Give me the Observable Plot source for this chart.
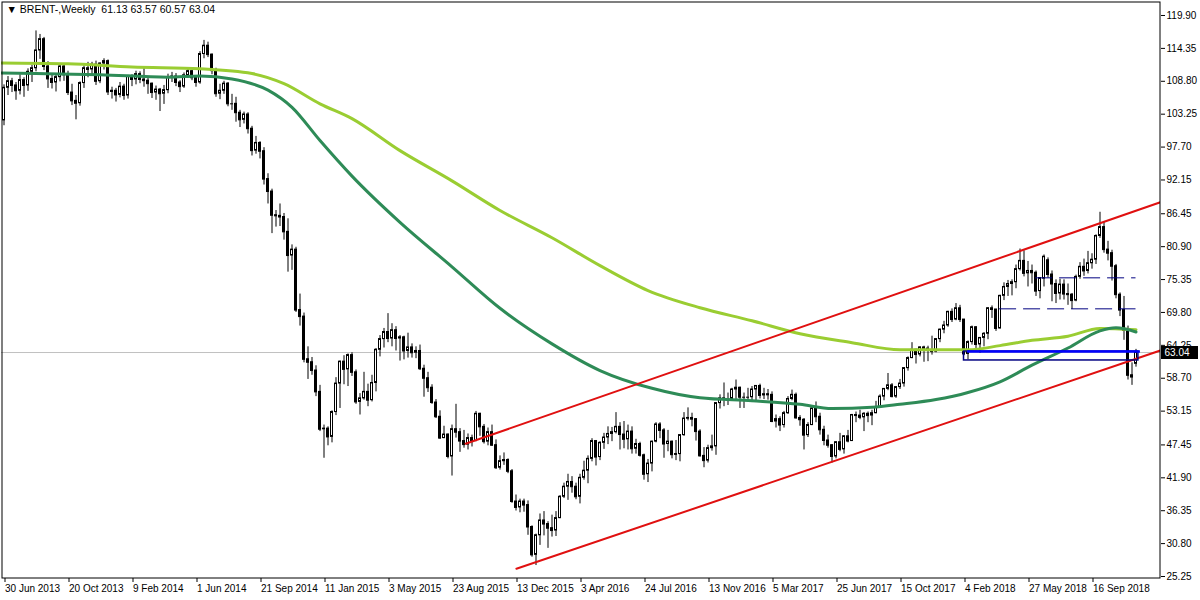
<!DOCTYPE html>
<html><head><meta charset="utf-8">
<script src="https://cdn.jsdelivr.net/npm/d3@7"></script>
<script src="https://cdn.jsdelivr.net/npm/@observablehq/plot@0.6"></script>
<style>
html,body{margin:0;padding:0;background:#fff;}
#chart{width:1200px;height:600px;overflow:hidden;}
</style></head><body><div id="chart"></div>
<script>
// ---- data (weekly BRENT candles, bar 0 = week of 30 Jun 2013) ----
const titleText = "\u25BC BRENT-,Weekly\u00a0\u00a061.13 63.57 60.57 63.04";
const opens = [
102.2,107.7,108.8,108.1,107.2,109.0,108.1,110.4,111.0,114.0,
115.9,111.3,109.2,108.6,109.5,111.3,109.9,106.9,105.5,105.1,
108.5,111.0,110.8,111.6,108.8,111.8,112.2,107.0,107.2,106.5,
107.9,106.4,109.6,109.1,110.0,109.1,108.9,108.4,106.9,107.4,
106.7,107.3,109.5,109.6,108.6,107.9,109.8,110.5,109.4,108.6,
113.4,114.8,113.3,110.6,106.7,107.2,108.4,105.0,105.0,103.5,
102.3,103.2,100.8,97.1,98.4,97.0,92.3,90.2,86.2,86.1,
85.9,83.4,79.4,80.4,70.2,69.1,61.9,61.4,60.0,56.4,
50.1,50.2,48.8,53.0,57.8,61.5,60.2,62.6,59.7,54.7,
55.3,56.4,55.0,57.9,63.5,65.3,66.5,65.4,66.8,65.4,
65.6,63.3,63.9,63.0,63.3,60.3,58.7,57.1,54.6,52.2,
48.6,49.2,45.5,50.1,49.6,48.1,47.5,48.6,48.1,52.7,
50.5,48.0,49.6,47.4,43.6,44.7,44.9,43.0,37.9,36.9,
37.9,37.3,33.6,28.9,32.2,34.7,34.1,33.4,33.0,35.1,
38.7,40.4,41.2,40.4,38.7,41.9,43.1,45.1,48.1,45.4,
47.8,48.7,49.3,49.6,50.5,49.2,48.4,49.7,46.8,47.6,
45.7,42.5,44.3,48.0,50.9,49.9,47.6,48.0,45.8,45.9,
49.1,51.9,52.0,51.8,49.7,45.6,44.8,46.9,47.2,54.5,
55.3,55.2,55.2,56.8,57.1,55.5,55.5,55.5,56.8,57.4,
55.8,56.0,55.9,51.4,51.8,50.8,52.8,55.2,55.9,52.0,
51.7,49.1,50.8,53.6,52.2,50.0,48.2,47.4,45.5,47.9,
46.7,48.9,48.1,52.5,52.4,52.1,52.7,52.4,52.8,53.8,
55.6,56.9,57.5,55.6,57.2,57.8,60.4,62.1,63.5,62.7,
63.9,63.7,63.4,63.2,65.3,66.9,67.6,69.9,68.6,70.5,
68.6,62.8,64.8,67.3,64.4,65.5,66.2,70.5,70.3,67.1,
72.6,74.1,74.6,74.9,77.1,78.5,76.4,76.8,76.5,73.4,
75.5,78.6,76.2,74.6,73.0,74.5,72.9,72.8,71.8,75.8,
77.5,76.8,78.1,78.7,82.7,84.2,80.4,79.8,77.6,72.8,
70.2,66.8,59.2,61.13];
const highs = [
108.2,109.6,109.3,108.6,109.9,109.4,110.9,111.5,117.3,116.7,
116.2,112.1,110.0,110.0,111.8,111.6,110.5,108.3,106.4,108.7,
111.4,112.0,112.0,112.2,111.9,112.6,112.4,107.8,107.6,108.6,
108.3,109.8,109.9,110.5,110.4,111.1,109.3,108.5,108.0,107.6,
108.1,110.0,110.3,110.1,108.9,110.2,110.8,110.6,109.5,113.8,
115.7,115.4,113.4,111.0,108.3,108.8,108.6,106.6,106.1,103.9,
103.6,103.5,101.2,99.5,98.6,97.6,93.2,90.6,87.0,88.1,
86.5,85.6,81.2,80.8,72.9,69.7,64.0,62.2,60.8,57.5,
50.8,50.5,53.2,58.8,61.6,62.5,62.8,63.0,60.1,56.1,
59.7,57.7,59.2,63.7,65.9,67.1,69.6,67.9,67.4,65.9,
65.8,66.3,64.5,64.0,64.3,60.9,59.7,57.6,55.1,53.2,
50.6,49.3,50.8,54.3,50.2,49.9,49.3,49.1,53.1,52.8,
50.9,50.3,50.8,48.3,45.6,46.1,45.1,43.3,39.0,38.3,
38.3,38.0,33.8,32.4,35.8,36.2,34.5,35.6,36.2,38.9,
41.0,42.5,42.1,41.0,42.5,44.7,45.6,48.5,48.2,48.0,
49.4,50.5,50.4,52.9,51.2,51.4,50.8,50.5,48.4,47.9,
45.9,45.0,48.1,51.2,51.2,50.2,49.9,48.1,48.2,49.2,
52.9,53.7,52.8,51.9,50.0,47.0,47.4,49.1,54.5,55.9,
57.9,56.2,57.0,58.4,57.2,56.2,57.0,57.3,57.4,57.7,
57.0,56.8,56.4,52.5,52.2,53.1,55.6,56.7,56.2,52.4,
51.9,51.2,54.0,54.7,52.8,50.6,49.1,47.5,48.0,49.4,
49.0,49.9,52.6,53.0,53.3,52.9,53.0,53.3,54.8,55.9,
56.9,59.5,57.8,57.3,58.5,60.5,62.3,64.7,63.6,64.0,
64.1,64.1,65.8,65.3,67.0,68.3,70.0,70.4,71.3,71.0,
68.6,65.0,67.5,67.4,65.5,66.4,70.6,70.9,70.3,72.7,
74.8,75.2,75.3,77.8,80.5,80.2,78.4,77.8,76.8,75.6,
79.5,79.0,76.8,75.3,75.4,75.3,74.6,73.0,76.1,78.2,
78.8,80.1,79.7,82.9,86.7,85.1,81.8,80.3,77.9,73.1,
72.5,67.5,61.3,63.57];
const lows = [
101.3,106.4,106.9,105.6,106.5,106.1,107.1,108.6,110.4,112.5,
110.6,107.6,107.5,107.0,108.7,108.8,106.4,104.7,102.3,104.6,
107.6,109.4,109.9,108.1,108.4,110.7,106.4,105.8,105.3,106.0,
105.6,105.8,107.9,108.2,108.4,107.8,106.6,105.9,105.6,103.7,
104.9,106.7,108.6,107.9,106.9,107.6,109.3,108.9,107.8,108.3,
112.6,112.8,109.9,106.1,105.7,106.6,104.5,103.9,101.9,101.0,
101.6,99.9,96.2,96.5,95.7,91.3,88.1,83.1,84.2,84.3,
82.0,76.6,76.9,69.8,67.5,61.3,58.5,59.2,55.6,49.7,
45.2,47.3,47.8,52.4,53.6,57.6,57.3,59.0,54.3,52.5,
55.0,53.9,54.7,56.4,62.3,63.8,64.7,64.0,63.3,61.6,
61.8,62.1,62.1,62.0,60.0,55.5,56.3,54.3,51.9,48.4,
48.5,45.1,42.2,48.6,46.2,46.9,46.6,47.1,48.0,48.9,
47.6,47.3,47.2,43.3,43.2,44.0,42.6,37.6,36.3,36.0,
36.1,32.2,28.5,27.1,30.5,32.1,30.0,31.9,32.0,35.0,
38.4,38.1,39.3,38.2,37.5,41.5,40.9,44.6,43.9,44.8,
46.7,47.5,48.0,49.3,46.6,46.8,46.6,45.9,45.9,45.4,
41.5,41.1,42.9,47.8,48.5,45.2,46.3,45.1,44.8,44.6,
48.9,51.5,50.5,48.1,45.4,43.6,44.4,46.4,45.7,53.5,
53.9,54.1,55.0,54.8,53.6,53.6,54.7,54.6,54.6,55.2,
55.1,55.0,51.2,50.3,49.7,50.3,52.6,54.9,51.8,50.6,
46.6,48.7,50.7,51.2,49.1,47.3,46.9,44.4,45.1,46.3,
45.9,47.8,48.1,51.2,51.7,49.7,51.2,50.7,52.7,53.6,
54.9,56.6,55.4,55.3,56.8,57.2,59.9,62.0,61.1,62.3,
61.4,61.5,62.6,63.0,64.7,66.2,67.3,68.1,68.4,68.1,
62.5,61.8,64.3,63.5,62.9,64.0,65.2,68.8,66.6,67.0,
71.8,72.5,72.6,73.8,76.8,75.8,74.1,74.6,72.5,72.1,
74.1,75.6,71.6,71.3,71.9,71.9,71.0,70.3,71.6,75.4,
75.9,76.3,77.1,77.9,82.3,79.8,78.5,75.1,72.1,69.1,
65.1,58.4,57.5,60.57];
const closes = [
107.7,108.8,108.1,107.2,109.0,108.1,110.4,111.0,114.0,115.9,
111.3,109.2,108.6,109.5,111.3,109.9,106.9,105.5,105.1,108.5,
111.0,110.8,111.6,108.8,111.8,112.2,107.0,107.2,106.5,107.9,
106.4,109.6,109.1,110.0,109.1,108.9,108.4,106.9,107.4,106.7,
107.3,109.5,109.6,108.6,107.9,109.8,110.5,109.4,108.6,113.4,
114.8,113.3,110.6,106.7,107.2,108.4,105.0,105.0,103.5,102.3,
103.2,100.8,97.1,98.4,97.0,92.3,90.2,86.2,86.1,85.9,
83.4,79.4,80.4,70.2,69.1,61.9,61.4,60.0,56.4,50.1,
50.2,48.8,53.0,57.8,61.5,60.2,62.6,59.7,54.7,55.3,
56.4,55.0,57.9,63.5,65.3,66.5,65.4,66.8,65.4,65.6,
63.3,63.9,63.0,63.3,60.3,58.7,57.1,54.6,52.2,48.6,
49.2,45.5,50.1,49.6,48.1,47.5,48.6,48.1,52.7,50.5,
48.0,49.6,47.4,43.6,44.7,44.9,43.0,37.9,36.9,37.9,
37.3,33.6,28.9,32.2,34.7,34.1,33.4,33.0,35.1,38.7,
40.4,41.2,40.4,38.7,41.9,43.1,45.1,48.1,45.4,47.8,
48.7,49.3,49.6,50.5,49.2,48.4,49.7,46.8,47.6,45.7,
42.5,44.3,48.0,50.9,49.9,47.6,48.0,45.8,45.9,49.1,
51.9,52.0,51.8,49.7,45.6,44.8,46.9,47.2,54.5,55.3,
55.2,55.2,56.8,57.1,55.5,55.5,55.5,56.8,57.4,55.8,
56.0,55.9,51.4,51.8,50.8,52.8,55.2,55.9,52.0,51.7,
49.1,50.8,53.6,52.2,50.0,48.2,47.4,45.5,47.9,46.7,
48.9,48.1,52.5,52.4,52.1,52.7,52.4,52.8,53.8,55.6,
56.9,57.5,55.6,57.2,57.8,60.4,62.1,63.5,62.7,63.9,
63.7,63.4,63.2,65.3,66.9,67.6,69.9,68.6,70.5,68.6,
62.8,64.8,67.3,64.4,65.5,66.2,70.5,70.3,67.1,72.6,
74.1,74.6,74.9,77.1,78.5,76.4,76.8,76.5,73.4,75.6,
79.2,76.2,74.6,73.0,74.5,72.9,72.8,71.8,75.8,77.5,
76.8,78.1,78.7,82.7,84.2,80.4,79.8,77.6,72.8,70.2,
66.8,59.2,58.9,63.04];

// moving averages (bar index -> price)
const maLightBars = [-1,16,32,49,62,70,79,87,99,112,124,137,149,161,174,187,199,212,224,241,249,257,266,274,283];
const maLightVals = [111.9,111.75,111.2,110.9,110.1,108.4,105.0,102.5,97.1,92.0,87.0,82.4,77.7,73.5,70.6,68.4,66.2,64.7,63.5,63.5,64.2,65.1,65.8,67.1,66.9];
const maDarkBars = [-1,8,24,41,49,57,66,72,79,87,99,112,124,137,149,162,174,187,199,207,217,224,233,241,249,257,266,274,278,283];
const maDarkVals = [110.2,110.1,109.9,109.5,109.7,109.2,107.3,104.4,98.8,92.8,85.0,77.5,70.5,64.5,60.0,57.0,55.4,54.9,54.3,53.6,53.8,54.3,55.1,56.3,58.1,60.9,63.8,66.7,67.2,66.5];

// channel (trend lines): anchor bars and prices
const upperBars = [115.4, 289.1];
const upperPrices = [47.64, 88.40];
const lowerBars = [128.1, 289.1];
const lowerPrices = [26.55, 63.38];

// horizontal levels
const dashLevels = [75.64, 70.41];
const dashStartBars = [257.9, 248.9];
const dashEndBar = 283.0;
const zoneTop = 63.2, zoneBottom = 61.7;
const zoneStartBar = 240.0, zoneEndBar = 283.6;
const blueLineStartBar = 240.9, blueLineEndBar = 284.1;

// axes
const yTickValues = [119.90,114.35,108.80,103.25,97.70,92.15,86.45,80.90,75.35,69.80,64.25,58.70,53.15,47.45,41.90,36.35,30.80,25.25];
const xTickBars = [0,16,32,48,64,80,96,112,128,144,160,176,192,208,224,240,256,272];
const xTickLabels = ["30 Jun 2013","20 Oct 2013","9 Feb 2014","1 Jun 2014","21 Sep 2014","11 Jan 2015","3 May 2015","23 Aug 2015","13 Dec 2015","3 Apr 2016","24 Jul 2016","13 Nov 2016","5 Mar 2017","25 Jun 2017","15 Oct 2017","4 Feb 2018","27 May 2018","16 Sep 2018"];

// ---- build ----
const candles = opens.map((o, i) => ({i, o, h: highs[i], l: lows[i], c: closes[i]}));
const upC = candles.filter(d => d.c >= d.o);
const dnC = candles.filter(d => d.c < d.o);
const lightMA = maLightBars.map((b, k) => ({b, v: maLightVals[k]}));
const darkMA = maDarkBars.map((b, k) => ({b, v: maDarkVals[k]}));
const upperLine = upperBars.map((b, k) => ({b, v: upperPrices[k]}));
const lowerLine = lowerBars.map((b, k) => ({b, v: lowerPrices[k]}));
const dashes = dashLevels.map((v, k) => ({v, x1: dashStartBars[k], x2: dashEndBar}));
const lastClose = closes[closes.length - 1];
const font = "'Liberation Sans', Arial, sans-serif";

const plot = Plot.plot({
  width: 1200, height: 600,
  marginLeft: 1, marginRight: 40, marginTop: 1, marginBottom: 22,
  style: {fontFamily: font, fontSize: "10px", color: "black", background: "white", overflow: "visible"},
  x: {type: "linear", domain: [-0.625, 289.125], axis: null},
  y: {type: "linear", domain: [24.913, 122.262], axis: null},
  marks: [
    Plot.ruleY([lastClose], {stroke: "#c0c0c0", strokeWidth: 1}),
    Plot.ruleX(candles, {x: "i", y1: "l", y2: "h", stroke: "black", strokeWidth: 1}),
    Plot.rect(dnC, {x1: d => d.i - 0.25, x2: d => d.i + 0.25, y1: "o", y2: "c", fill: "black", stroke: "black", strokeWidth: 1}),
    Plot.rect(upC, {x1: d => d.i - 0.25, x2: d => d.i + 0.25, y1: "o", y2: "c", fill: "white", stroke: "black", strokeWidth: 1}),
    Plot.ruleY(candles, {y: "c", x1: d => d.i - 0.375, x2: d => d.i + 0.375, stroke: "black", strokeWidth: 1}),
    Plot.line(lightMA, {x: "b", y: "v", stroke: "#9acd32", strokeWidth: 3, curve: "monotone-x", clip: true}),
    Plot.line(darkMA, {x: "b", y: "v", stroke: "#2e8b57", strokeWidth: 3, curve: "monotone-x", clip: true}),
    Plot.line(upperLine, {x: "b", y: "v", stroke: "#e01010", strokeWidth: 2, clip: true}),
    Plot.line(lowerLine, {x: "b", y: "v", stroke: "#e01010", strokeWidth: 2, clip: true}),
    Plot.ruleY(dashes, {y: "v", x1: "x1", x2: "x2", stroke: "#000080", strokeWidth: 1, strokeDasharray: "17,7"}),
    Plot.rect([{a: zoneStartBar, b: zoneEndBar, lo: zoneBottom, hi: zoneTop}], {x1: "a", x2: "b", y1: "lo", y2: "hi", fill: "none", stroke: "#000080", strokeWidth: 1.5}),
    Plot.ruleY([zoneTop], {x1: blueLineStartBar, x2: blueLineEndBar, stroke: "#0000ff", strokeWidth: 2.5}),
    Plot.frame({stroke: "black", inset: 0.5}),
    Plot.axisY({ticks: yTickValues, anchor: "right", tickSize: 4, tickPadding: 2, tickFormat: d => d.toFixed(2), label: null, fontSize: 10}),
    Plot.axisX({ticks: xTickBars, tickFormat: d => xTickLabels[xTickBars.indexOf(d)], tickSize: 4, tickPadding: 2, textAnchor: "start", dx: 1, label: null, fontSize: 10}),
    Plot.ruleY([lastClose], {stroke: "black", strokeWidth: 13, insetLeft: 1160, insetRight: -38}),
    Plot.text([lastClose], {y: d => d, text: d => d.toFixed(2), frameAnchor: "right", textAnchor: "start", dx: 4, fill: "white", fontSize: 10}),
    Plot.text([titleText], {frameAnchor: "top-left", dx: 5, dy: 4, textAnchor: "start", lineAnchor: "top", fontSize: 10.5, fill: "black"})
  ]
});
document.getElementById("chart").appendChild(plot);
</script></body></html>
